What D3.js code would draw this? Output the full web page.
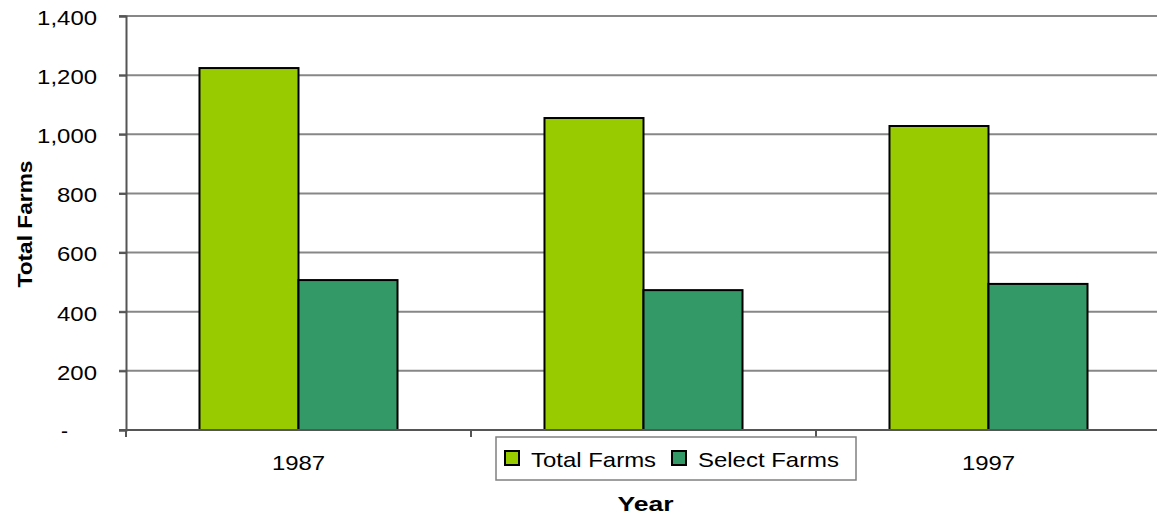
<!DOCTYPE html>
<html><head><meta charset="utf-8">
<script src="https://cdn.jsdelivr.net/npm/d3@7"></script>
<style>body{margin:0;background:#fff;}text{font-family:"Liberation Sans",Arial,sans-serif;}</style>
</head><body>
<svg id="c" width="1157" height="518"></svg>
<script>
const categories = ["1987", "1992", "1997"];
const seriesNames = ["Total Farms", "Select Farms"];
const totalFarms = [1224, 1055, 1028];
const selectFarms = [507, 473, 494];
const yTicks = [0, 200, 400, 600, 800, 1000, 1200, 1400];
const colors = ["#99CC00", "#339966"];

(function () {
const svg = d3.select("#c");
const pL = 126, pR = 1161, pT = 16, pB = 430;
const K = 1.14; // horizontal stretch of the reference's type
const stretch = sel => sel.each(function () {
  const w = this.getComputedTextLength();
  d3.select(this).attr("textLength", w * K).attr("lengthAdjust", "spacingAndGlyphs");
});
const x = d3.scaleBand().domain(categories).range([pL, pR]).paddingInner(0.426).paddingOuter(0.213);
const xs = d3.scaleBand().domain(seriesNames).range([0, x.bandwidth()]);
const y = d3.scaleLinear().domain([0, 1400]).range([pB, pT]);

// gridlines
svg.append("g").selectAll("line").data(yTicks.filter(d => d > 0)).join("line")
  .attr("x1", pL - 7).attr("x2", pR).attr("y1", d => y(d)).attr("y2", d => y(d))
  .attr("stroke", "#878787").attr("stroke-width", 2);

// y axis (zero shown as an accounting-style dash, placed further left)
const yAxis = d3.axisLeft(y).tickValues(yTicks).tickSize(7).tickPadding(22)
  .tickFormat(d => d === 0 ? "" : d3.format(",")(d));
const gy = svg.append("g").attr("transform", `translate(${pL},0)`).call(yAxis);
gy.select(".domain").attr("stroke", "#555").attr("stroke-width", 2);
gy.selectAll(".tick line").attr("stroke", "#555").attr("stroke-width", 2);
gy.selectAll(".tick text").filter(function () { return this.textContent !== ""; })
  .attr("font-size", 21).attr("fill", "#000").attr("dy", "0.4em")
  .attr("font-family", "Liberation Sans, Arial, sans-serif").call(stretch);
svg.append("text").attr("x", 68).attr("y", y(0)).attr("dy", "0.4em")
  .attr("text-anchor", "end").attr("font-size", 21).attr("fill", "#000").text("-");

// bars
const data = categories.map((c, i) => ({c, vals: [totalFarms[i], selectFarms[i]]}));
const grp = svg.append("g").selectAll("g").data(data).join("g")
  .attr("transform", d => `translate(${x(d.c)},0)`);
grp.selectAll("rect").data(d => d.vals.map((v, j) => ({v, s: seriesNames[j], j}))).join("rect")
  .attr("x", d => xs(d.s)).attr("width", xs.bandwidth())
  .attr("y", d => y(d.v)).attr("height", d => y(0) - y(d.v))
  .attr("fill", d => colors[d.j]).attr("stroke", "#000").attr("stroke-width", 2);

// x axis
const xAxis = d3.axisBottom(x).tickSize(0).tickPadding(25);
const gx = svg.append("g").attr("transform", `translate(0,${pB})`).call(xAxis);
gx.select(".domain").attr("stroke", "#555").attr("stroke-width", 2).attr("d", `M${pL - 7},0H${pR}`);
gx.selectAll(".tick text").attr("font-size", 21).attr("fill", "#000")
  .attr("font-family", "Liberation Sans, Arial, sans-serif").call(stretch);
svg.append("g").selectAll("line").data(categories.map((c, i) => pL + i * x.step())).join("line")
  .attr("x1", d => d).attr("x2", d => d).attr("y1", pB).attr("y2", pB + 7)
  .attr("stroke", "#555").attr("stroke-width", 2);

// axis titles
svg.append("text").attr("transform", `translate(32,${(pT + pB) / 2 + 1}) rotate(-90)`)
  .attr("text-anchor", "middle").attr("font-size", 21).attr("font-weight", "bold")
  .attr("textLength", 127).attr("lengthAdjust", "spacingAndGlyphs").text("Total Farms");
svg.append("text").attr("x", (pL + pR) / 2 + 2).attr("y", 511)
  .attr("text-anchor", "middle").attr("font-size", 21).attr("font-weight", "bold")
  .attr("textLength", 56).attr("lengthAdjust", "spacingAndGlyphs").text("Year");

// legend
const lgX = 496, lgY = 437, lgW = 360, lgH = 43;
const lg = svg.append("g").attr("transform", `translate(${lgX},${lgY})`);
lg.append("rect").attr("width", lgW).attr("height", lgH).attr("fill", "#fff")
  .attr("stroke", "#808080").attr("stroke-width", 1.5);
const lx = [9, 176];
seriesNames.forEach((s, i) => {
  lg.append("rect").attr("x", lx[i]).attr("y", 14).attr("width", 14).attr("height", 14)
    .attr("fill", colors[i]).attr("stroke", "#000").attr("stroke-width", 2);
  lg.append("text").attr("x", lx[i] + 26).attr("y", 30).attr("font-size", 21).text(s).call(stretch);
});

// the legend covers any category label lying beneath it
gx.selectAll(".tick text").each(function () {
  const b = this.getBBox();
  const cx = +d3.select(this.parentNode).attr("transform").match(/translate\(([^,]+)/)[1];
  const l = cx + b.x, r = cx + b.x + b.width, t = pB + b.y, bt = pB + b.y + b.height;
  if (r > lgX && l < lgX + lgW && bt > lgY && t < lgY + lgH) d3.select(this).remove();
});
})();
</script>
</body></html>
